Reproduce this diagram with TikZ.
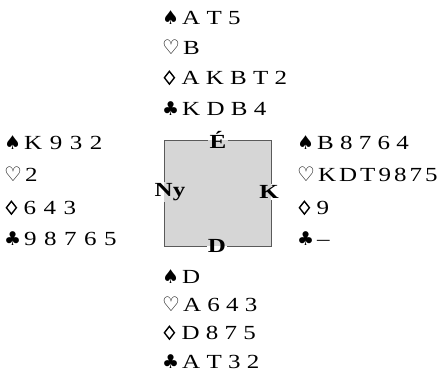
\documentclass[tikz,border=0pt]{standalone}
\usepackage{fontspec}
\setmainfont{Liberation Serif}[FakeStretch=1.25]
\newfontfamily\suitfont{DejaVu Sans}
\newcommand\suitS{{\suitfont\fontsize{19}{19}\selectfont\char"2660}\hspace{3pt}}
\newcommand\suitH{{\suitfont\bfseries\fontsize{20}{20}\selectfont\char"2661}\hspace{3pt}}
\newcommand\suitD{\hspace{1.5pt}\tikz[x=1pt,y=1pt,baseline=0pt]\draw[line width=1.4pt,line join=miter] (5,0.4)--(10,6.8)--(5,13.2)--(0,6.8)--cycle;\hspace{6.5pt}}
\newcommand\suitC{{\suitfont\fontsize{19}{19}\selectfont\char"2663}\hspace{3pt}}
\definecolor{boxgray}{HTML}{D6D6D6}
\definecolor{edgegray}{HTML}{5A5A5A}
\begin{document}
\begin{tikzpicture}[x=1pt,y=-1pt,
  card/.style={anchor=base west,inner sep=0pt,font=\fontsize{20}{24}\selectfont},
  seat/.style={inner sep=1pt,font=\fontsize{20}{24}\selectfont\bfseries},
  edge/.style={draw=edgegray,line width=1pt}]
\useasboundingbox (0,0) rectangle (442,375);
% box
\coordinate (tl) at (164,140);
\coordinate (br) at (271,246);
\coordinate (tr) at (271,140);
\coordinate (bl) at (164,246);
\fill[boxgray] (tl) rectangle (br);
\node[seat] (E) at (218,140) {É};
\node[seat] (Dd) at (217,246) {D};
\node[seat] (Ny) at (170,192) {Ny};
\node[seat] (K) at (269,192) {K};
\draw[edge] (tl) -- (tl -| E.west);
\draw[edge] (tr -| E.east) -- (tr) -- (tr |- K.north);
\draw[edge] (tr |- K.south) -- (br) -- (br -| Dd.east);
\draw[edge] (bl -| Dd.west) -- (bl) -- (bl |- Ny.south);
\draw[edge] (bl |- Ny.north) -- (tl);
% North
\node[card] (n1) at (162,24.5) {\suitS A T 5};
\node[card] (n2) at (162,54.5) {\suitH B};
\node[card] (n3) at (162,84.5) {\suitD A K B T 2};
\node[card] (n4) at (162,115.5) {\suitC K D B 4};
% West
\node[card] (w1) at (4,149.5) {\suitS \spaceskip=7.5pt K 9 3 2};
\node[card] (w2) at (4,181.5) {\suitH 2};
\node[card] (w3) at (4,214.5) {\suitD \spaceskip=7.5pt 6 4 3};
\node[card] (w4) at (4,245.5) {\suitC \spaceskip=7.5pt 9 8 7 6 5};
% East
\node[card] (e1) at (297,149.5) {\suitS B 8 7 6 4};
\node[card] (e2) at (297,181.5) {\suitH \spaceskip=3pt K D T 9 8 7 5};
\node[card] (e3) at (297,214.5) {\suitD 9};
\node[card] (e4) at (297,245.5) {\suitC --};
% South
\node[card] (s1) at (162,283.5) {\suitS D};
\node[card] (s2) at (162,311.5) {\suitH A 6 4 3};
\node[card] (s3) at (162,339.5) {\suitD D 8 7 5};
\node[card] (s4) at (162,368.5) {\suitC A T 3 2};
\end{tikzpicture}
\end{document}
